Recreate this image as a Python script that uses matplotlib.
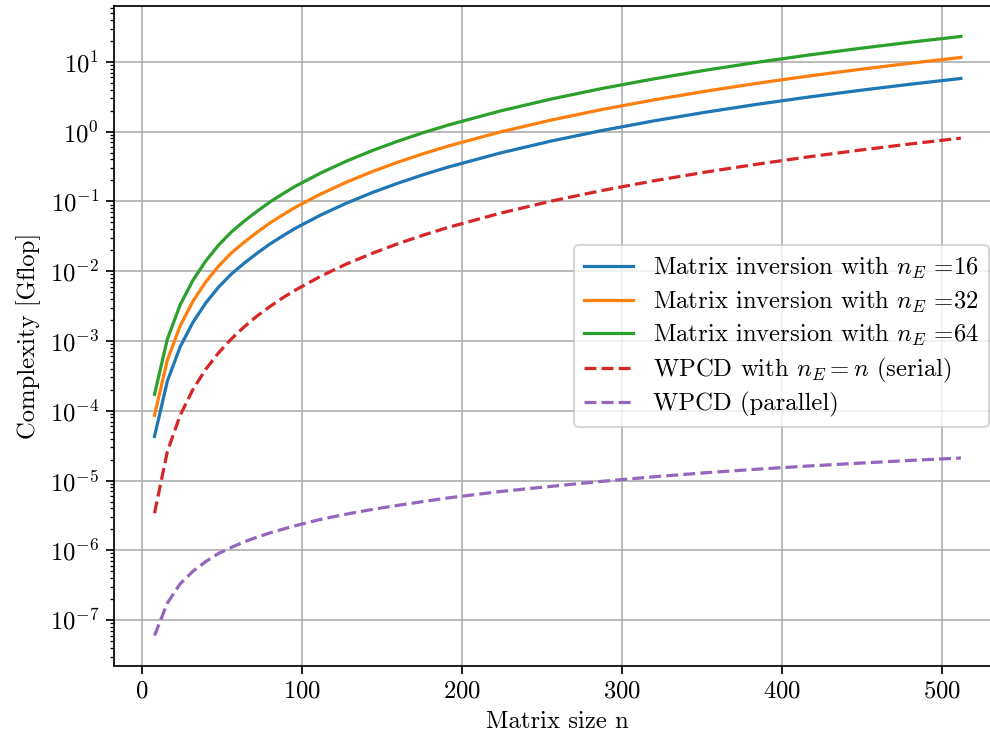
import numpy as np
import matplotlib
matplotlib.use("Agg")
import matplotlib.pyplot as plt

plt.rcParams["font.family"] = "serif"
plt.rcParams["font.serif"] = ["cmr10"]
plt.rcParams["mathtext.fontset"] = "cm"
plt.rcParams["axes.unicode_minus"] = False
plt.rcParams["axes.formatter.use_mathtext"] = True
plt.rcParams["font.size"] = 11.5

# matrix sizes
n = np.array([8, 16, 24, 32, 40, 48, 56, 64, 72, 80, 88, 96, 112, 128, 144, 160, 176, 192,
              224, 256, 288, 320, 352, 384, 416, 448, 480, 512])

# complexity in Gflop
inv_16 = np.array([4.3e-5, 2.65e-4, 8.2e-4, 1.85e-3, 3.5e-3, 5.9e-3, 9.1e-3, 1.30e-2, 1.80e-2,
                   2.44e-2, 3.19e-2, 4.12e-2, 6.4e-2, 9.45e-2, 0.1336, 0.182, 0.2417, 0.3126,
                   0.4936, 0.7336, 1.041, 1.424, 1.891, 2.451, 3.111, 3.88, 4.767, 5.78])
inv_32 = np.array([8.6e-5, 5.3e-4, 1.64e-3, 3.7e-3, 7.0e-3, 1.18e-2, 1.82e-2, 2.6e-2, 3.6e-2,
                   4.88e-2, 6.38e-2, 8.24e-2, 0.128, 0.189, 0.267, 0.364, 0.483, 0.625,
                   0.987, 1.467, 2.082, 2.848, 3.782, 4.902, 6.222, 7.76, 9.534, 11.56])
inv_64 = np.array([1.72e-4, 1.06e-3, 3.28e-3, 7.4e-3, 1.4e-2, 2.36e-2, 3.64e-2, 5.2e-2, 7.2e-2,
                   9.76e-2, 0.1276, 0.1648, 0.256, 0.378, 0.534, 0.728, 0.967, 1.25,
                   1.974, 2.934, 4.164, 5.696, 7.564, 9.804, 12.44, 15.52, 19.07, 23.12])
wpcd_serial = np.array([3.4e-6, 2.59e-5, 8.58e-5, 2.02e-4, 3.92e-4, 6.75e-4, 1.07e-3, 1.59e-3, 2.27e-3,
                        3.1e-3, 4.13e-3, 5.35e-3, 8.49e-3, 1.27e-2, 1.80e-2, 2.47e-2, 3.29e-2, 4.27e-2,
                        6.77e-2, 0.101, 0.1437, 0.197, 0.2623, 0.34, 0.4328, 0.54, 0.6647, 0.806])
wpcd_parallel = np.array([6.0e-8, 1.75e-7, 3.3e-7, 5.0e-7, 6.9e-7, 9.0e-7, 1.1e-6, 1.32e-6, 1.54e-6,
                          1.77e-6, 2.0e-6, 2.25e-6, 2.78e-6, 3.3e-6, 3.85e-6, 4.4e-6, 5.0e-6, 5.65e-6,
                          6.95e-6, 8.25e-6, 9.75e-6, 1.13e-5, 1.29e-5, 1.45e-5, 1.61e-5, 1.77e-5,
                          1.94e-5, 2.1e-5])

dpi = 154.7
W, H = 990, 740
fig = plt.figure(figsize=(W / dpi, H / dpi), dpi=dpi)
# axes run slightly past the right edge of the canvas
ax = fig.add_axes([114.2 / W, 1 - 665.5 / H, (1001.2 - 114.2) / W, (665.5 - 6.5) / H])

ax.plot(n, inv_16, label=r"Matrix inversion with $n_E$ =16")
ax.plot(n, inv_32, label=r"Matrix inversion with $n_E$ =32")
ax.plot(n, inv_64, label=r"Matrix inversion with $n_E$ =64")
ax.plot(n, wpcd_serial, "--", label=r"WPCD with $n_E=n$ (serial)")
ax.plot(n, wpcd_parallel, "--", label="WPCD (parallel)")

ax.set_yscale("log")
ax.grid(True)
ax.set_xlabel("Matrix size n")
ax.set_ylabel("Complexity [Gflop]")
ax.legend(loc="center right", labelspacing=0.3)

fig.savefig("out.png", dpi=dpi)
